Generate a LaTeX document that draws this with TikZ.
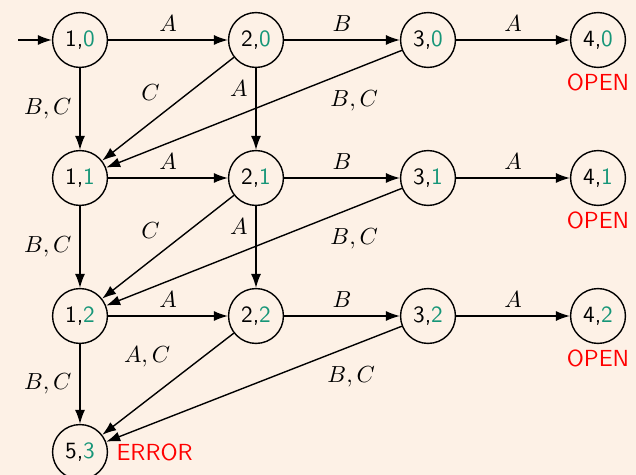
\documentclass[tikz,border=0pt]{standalone}
\usepackage{tikz}
\usepackage{amsmath}
\usepackage{xcolor}
\usetikzlibrary{arrows.meta}
\definecolor{bgpeach}{RGB}{253,241,230}
\definecolor{lvlteal}{RGB}{22,150,120}
\definecolor{tagred}{RGB}{255,0,0}
\newcommand{\lvl}[1]{\textcolor{lvlteal}{#1}}

\begin{document}
\begin{tikzpicture}[x=0.43pt,y=-0.43pt,line width=0.6pt,
  state/.style={circle,draw,minimum size=23.6pt,inner sep=0pt,font=\sffamily},
  tr/.style={-{Latex[length=6pt,width=4.3pt]}},
  tag/.style={font=\sffamily,text=tagred}]
\useasboundingbox (0,0) rectangle (636,475);
\fill[bgpeach] (0,0) rectangle (636,475);
\node[state] (s10) at (80,40) {1,\lvl{0}};
\node[state] (s20) at (256,40) {2,\lvl{0}};
\node[state] (s30) at (428,40) {3,\lvl{0}};
\node[state] (s40) at (598,40) {4,\lvl{0}};
\node[state] (s11) at (80,178) {1,\lvl{1}};
\node[state] (s21) at (256,178) {2,\lvl{1}};
\node[state] (s31) at (428,178) {3,\lvl{1}};
\node[state] (s41) at (598,178) {4,\lvl{1}};
\node[state] (s12) at (80,316) {1,\lvl{2}};
\node[state] (s22) at (256,316) {2,\lvl{2}};
\node[state] (s32) at (428,316) {3,\lvl{2}};
\node[state] (s42) at (598,316) {4,\lvl{2}};
\node[state] (s53) at (80,452) {5,\lvl{3}};
\node[tag,below=-1pt] (open0) at (s40.south) {OPEN};
\node[tag,below=-1pt] (open1) at (s41.south) {OPEN};
\node[tag,below=-1pt] (open2) at (s42.south) {OPEN};
\node[tag,right] (err) at (s53.east) {ERROR};
\coordinate (start) at (18,40);
\draw[tr] (start) -- (s10);
\draw[tr] (s10) -- node[above] {$A$} (s20);
\draw[tr] (s20) -- node[above] {$B$} (s30);
\draw[tr] (s30) -- node[above] {$A$} (s40);
\draw[tr] (s10) -- node[left] {$B,C$} (s11);
\draw[tr] (s20) -- node[above left] {$C$} (s11);
\draw[tr] (s20) -- node[left,pos=0.25] {$A$} (s21);
\draw[tr] (s30) -- node[below right,pos=0.27] {$B,C$} (s11);
\draw[tr] (s11) -- node[above] {$A$} (s21);
\draw[tr] (s21) -- node[above] {$B$} (s31);
\draw[tr] (s31) -- node[above] {$A$} (s41);
\draw[tr] (s11) -- node[left] {$B,C$} (s12);
\draw[tr] (s21) -- node[above left] {$C$} (s12);
\draw[tr] (s21) -- node[left,pos=0.25] {$A$} (s22);
\draw[tr] (s31) -- node[below right,pos=0.27] {$B,C$} (s12);
\draw[tr] (s12) -- node[above] {$A$} (s22);
\draw[tr] (s22) -- node[above] {$B$} (s32);
\draw[tr] (s32) -- node[above] {$A$} (s42);
\draw[tr] (s12) -- node[left] {$B,C$} (s53);
\draw[tr] (s22) -- node[above left,pos=0.42] {$A,C$} (s53);
\draw[tr] (s32) -- node[below right,pos=0.28] {$B,C$} (s53);
\end{tikzpicture}
\end{document}
